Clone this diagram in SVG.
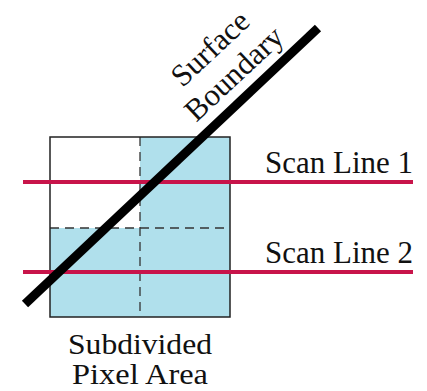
<svg xmlns="http://www.w3.org/2000/svg" width="427" height="391" viewBox="0 0 427 391">
<style>
text{font-family:"Liberation Serif","Times New Roman",serif;font-size:31px;fill:#111}
.cap{font-size:29px}
.dash{stroke:#333;stroke-width:1.3;stroke-dasharray:9,6;fill:none}
.scan{stroke:#c8144a;stroke-width:4}
</style>
<rect width="427" height="391" fill="#fff"/>
<g id="pixel">
<rect x="140" y="137" width="90" height="180" fill="#b0e0ec"/>
<rect x="50" y="228" width="90" height="89" fill="#b0e0ec"/>
<line class="dash" x1="140" y1="137" x2="140" y2="317"/>
<line class="dash" x1="50" y1="228" x2="230" y2="228"/>
<rect x="50" y="137" width="180" height="180" fill="none" stroke="#222" stroke-width="1.5"/>
</g>
<g id="connectors">
<line class="scan" x1="23" y1="182" x2="413" y2="182"/>
<line class="scan" x1="23" y1="272" x2="413" y2="272"/>
<line x1="25" y1="304" x2="318" y2="28" stroke="#000" stroke-width="9"/>
</g>
<g id="labels">
<text x="413" y="173" text-anchor="end" textLength="148" lengthAdjust="spacingAndGlyphs">Scan Line 1</text>
<text x="413" y="263" text-anchor="end" textLength="148" lengthAdjust="spacingAndGlyphs">Scan Line 2</text>
<text class="cap" x="140" y="354" text-anchor="middle" textLength="144" lengthAdjust="spacingAndGlyphs">Subdivided</text>
<text class="cap" x="140" y="384" text-anchor="middle" textLength="136" lengthAdjust="spacingAndGlyphs">Pixel Area</text>
<text transform="translate(217,56) rotate(-43)" text-anchor="middle">Surface</text>
<text transform="translate(241,81) rotate(-43)" text-anchor="middle">Boundary</text>
</g>
</svg>
